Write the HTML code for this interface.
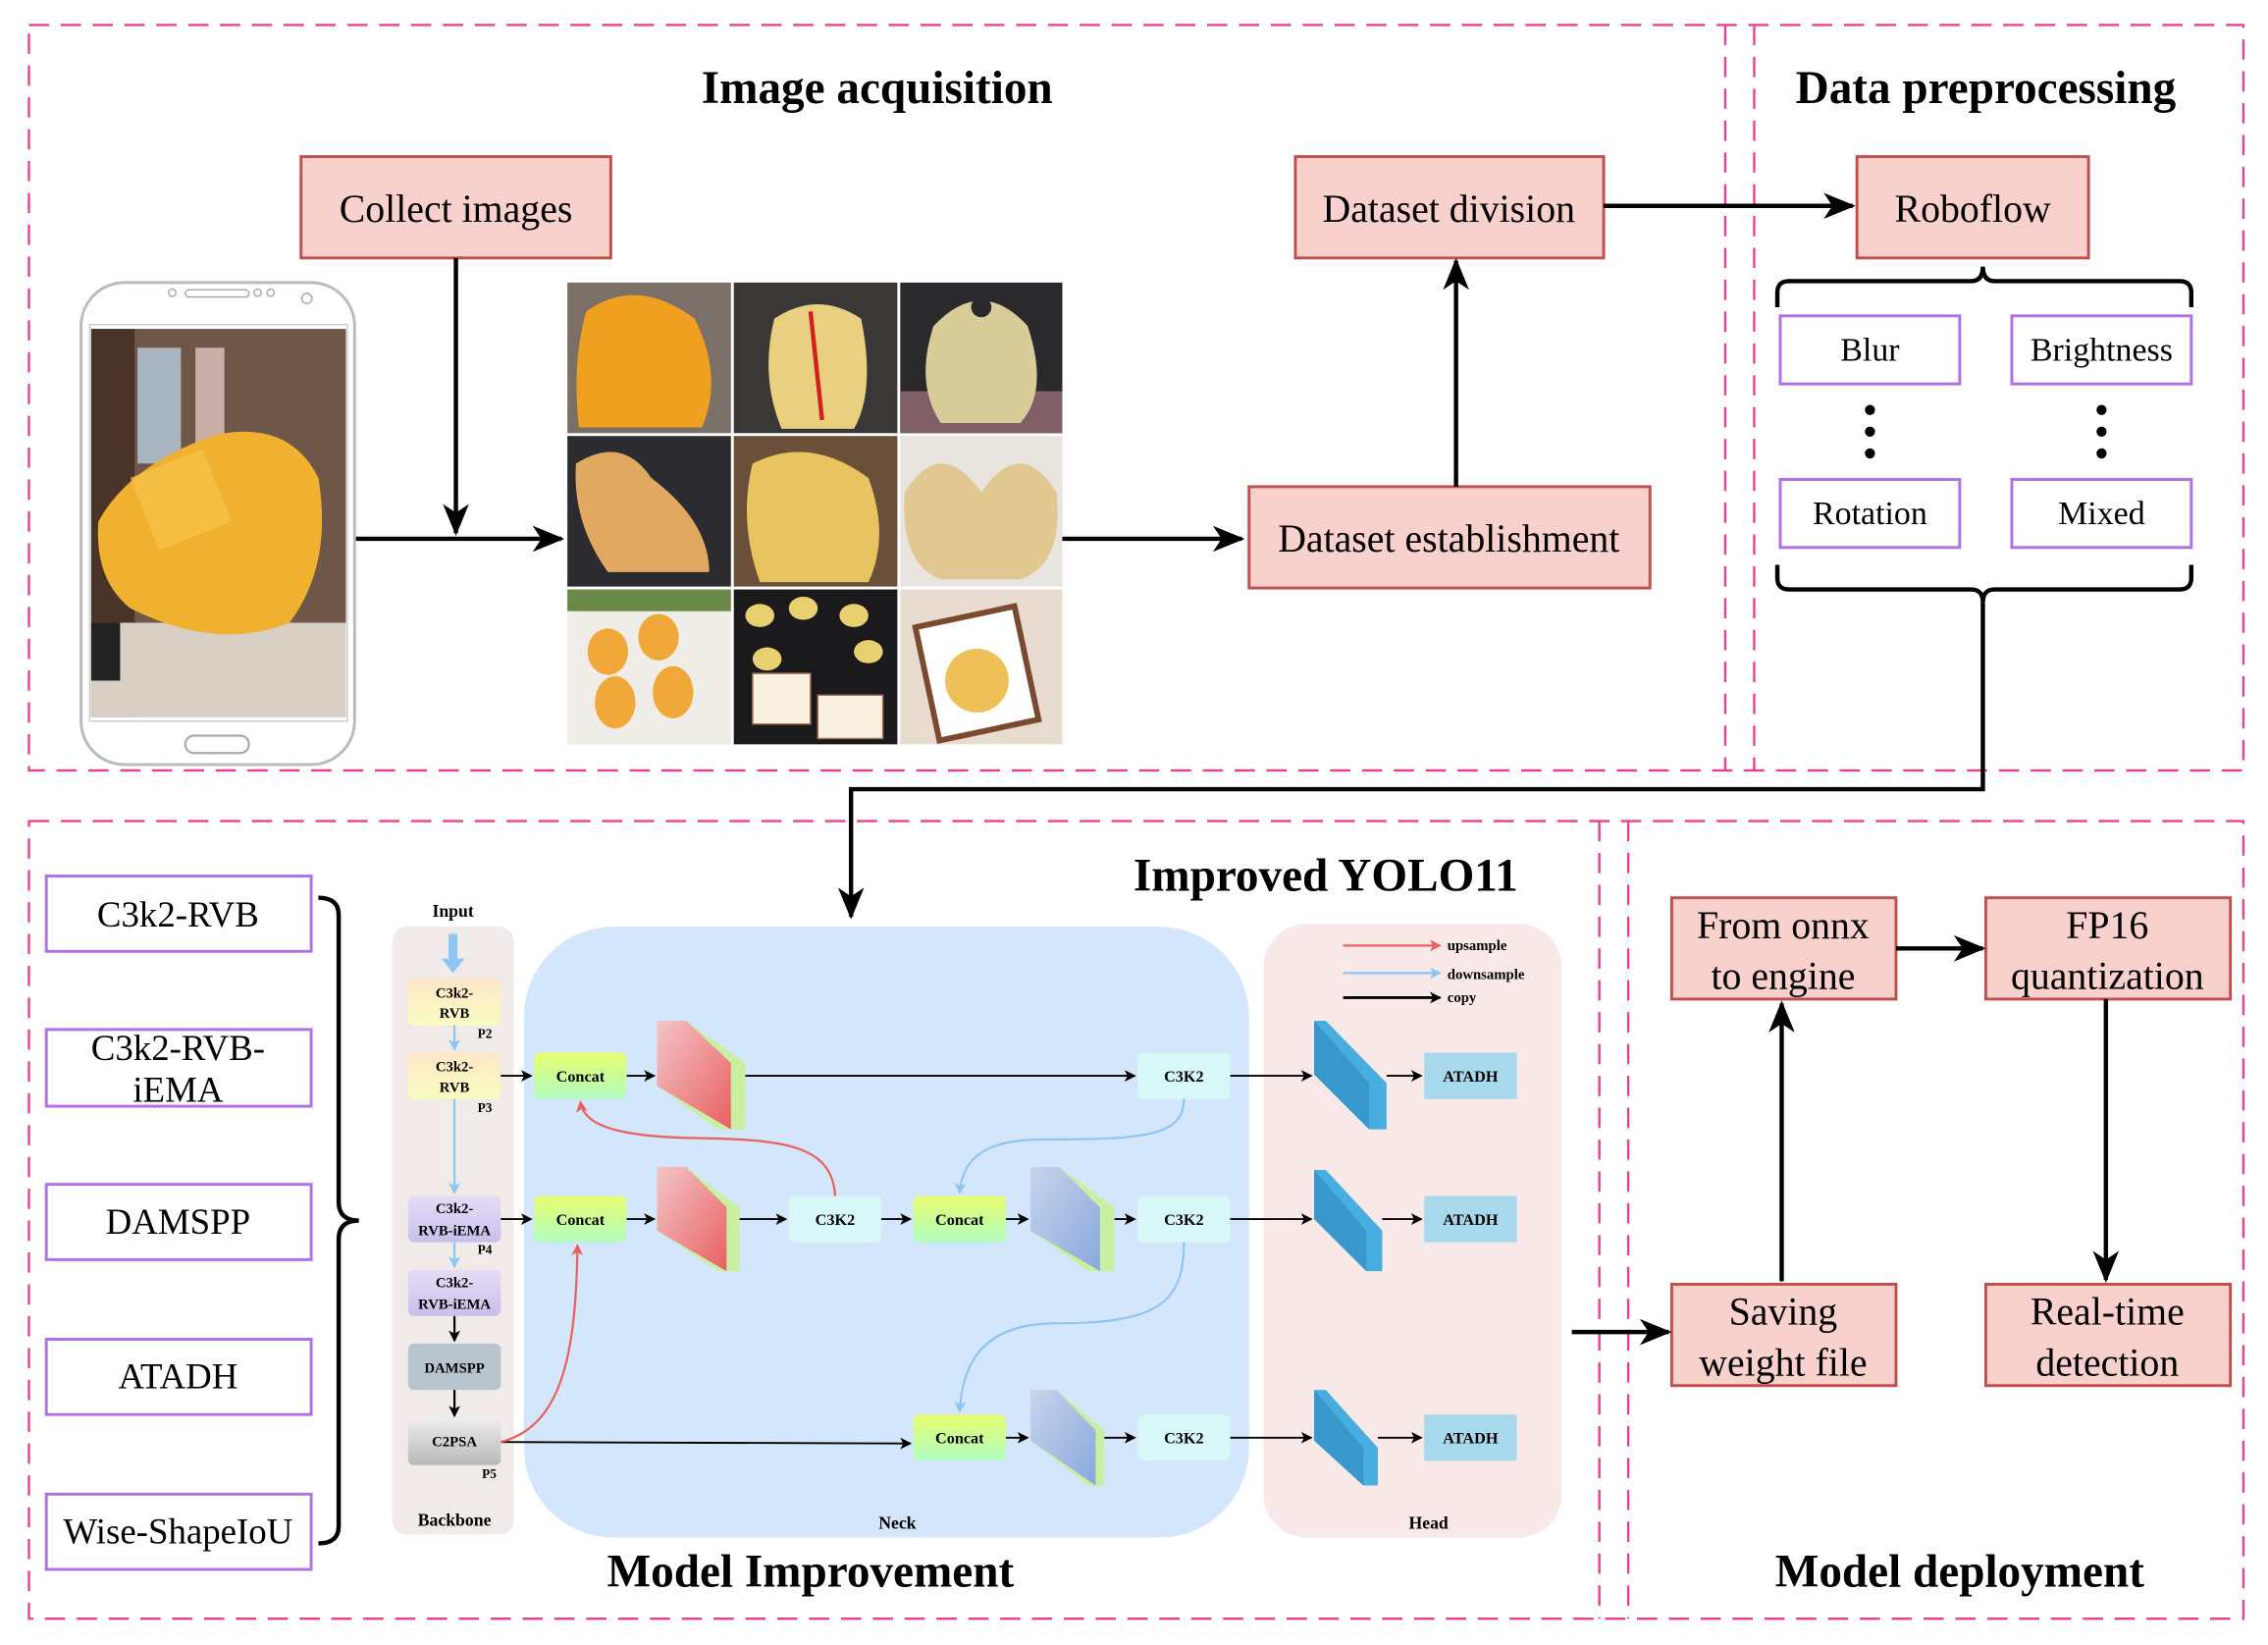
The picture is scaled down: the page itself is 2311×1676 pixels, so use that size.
<!DOCTYPE html>
<html><head><meta charset="utf-8"><style>
html,body{margin:0;padding:0;background:#fff}
svg{display:block}
svg text{font-family:"Liberation Serif","Times New Roman","DejaVu Serif",serif}
</style></head><body>
<svg width="2311" height="1676" viewBox="0 0 1567 1136" xmlns="http://www.w3.org/2000/svg" font-family="Liberation Serif, Times New Roman, serif">
<defs>
<marker id="ahL" markerWidth="22" markerHeight="22" refX="20" refY="11" orient="auto" markerUnits="userSpaceOnUse" viewBox="0 0 22 22"><path d="M0,2 L22,11 L0,20 L6,11 Z" fill="#000"/></marker>
<marker id="ahS" markerWidth="8" markerHeight="8" refX="7" refY="4" orient="auto" markerUnits="userSpaceOnUse" viewBox="0 0 8 8"><path d="M0,0 L8,4 L0,8 L2,4 Z" fill="#000"/></marker>
<marker id="ahR" markerWidth="8" markerHeight="8" refX="7" refY="4" orient="auto" markerUnits="userSpaceOnUse" viewBox="0 0 8 8"><path d="M0,0 L8,4 L0,8 L2,4 Z" fill="#e8625a"/></marker>
<marker id="ahB" markerWidth="8" markerHeight="8" refX="7" refY="4" orient="auto" markerUnits="userSpaceOnUse" viewBox="0 0 8 8"><path d="M0,0 L8,4 L0,8 L2,4 Z" fill="#8ec5f5"/></marker>
<linearGradient id="gy" x1="0" y1="0" x2="0" y2="1"><stop offset="0" stop-color="#fde6c8"/><stop offset="1" stop-color="#f8fcc0"/></linearGradient>
<linearGradient id="gp" x1="0" y1="0" x2="0" y2="1"><stop offset="0" stop-color="#e6dcf6"/><stop offset="1" stop-color="#c8c0ec"/></linearGradient>
<linearGradient id="gg" x1="0" y1="0" x2="0" y2="1"><stop offset="0" stop-color="#e8fe70"/><stop offset="1" stop-color="#b0fcc0"/></linearGradient>
<linearGradient id="gc" x1="0" y1="0" x2="0" y2="1"><stop offset="0" stop-color="#ededed"/><stop offset="1" stop-color="#b8b8b8"/></linearGradient>
<linearGradient id="gr" x1="0" y1="0" x2="1" y2="1"><stop offset="0" stop-color="#f4c4c8"/><stop offset="1" stop-color="#e86060"/></linearGradient>
<linearGradient id="gb" x1="0" y1="0" x2="1" y2="1"><stop offset="0" stop-color="#c8d4ec"/><stop offset="1" stop-color="#88a8dc"/></linearGradient>
</defs>

<g fill="none" stroke="#e8408f" stroke-width="1.6" stroke-dasharray="14,8">
<rect x="20" y="17" width="1530" height="515"/>
<line x1="1192" y1="17" x2="1192" y2="532"/>
<line x1="1212" y1="17" x2="1212" y2="532"/>
<rect x="20" y="567" width="1530" height="551"/>
<line x1="1105" y1="567" x2="1105" y2="1118"/>
<line x1="1125" y1="567" x2="1125" y2="1118"/>
</g>

<g font-weight="bold" font-size="32" text-anchor="middle" fill="#000">
<text x="606" y="71">Image acquisition</text>
<text x="1372" y="71">Data preprocessing</text>
<text x="916" y="615">Improved YOLO11</text>
<text x="560" y="1096">Model Improvement</text>
<text x="1354" y="1096">Model deployment</text>
</g>

<g fill="#f8d0cc" stroke="#c0504d" stroke-width="2">
<rect x="208" y="108" width="214" height="70"/>
<rect x="895" y="108" width="213" height="70"/>
<rect x="863" y="336" width="277" height="70"/>
<rect x="1283" y="108" width="160" height="70"/>
<rect x="1155" y="620" width="155" height="70"/>
<rect x="1372" y="620" width="169" height="70"/>
<rect x="1155" y="887" width="155" height="70"/>
<rect x="1372" y="887" width="169" height="70"/>
</g>
<g font-size="27" text-anchor="middle" fill="#000">
<text x="315" y="153">Collect images</text>
<text x="1001" y="153">Dataset division</text>
<text x="1001" y="381">Dataset establishment</text>
<text x="1363" y="153">Roboflow</text>
<text x="1232" y="648">From onnx</text><text x="1232" y="683">to engine</text>
<text x="1456" y="648">FP16</text><text x="1456" y="683">quantization</text>
<text x="1232" y="915">Saving</text><text x="1232" y="950">weight file</text>
<text x="1456" y="915">Real-time</text><text x="1456" y="950">detection</text>
</g>

<g fill="#fff" stroke="#b070e8" stroke-width="2">
<rect x="1230" y="218" width="124" height="47"/>
<rect x="1390" y="218" width="124" height="47"/>
<rect x="1230" y="331" width="124" height="47"/>
<rect x="1390" y="331" width="124" height="47"/>
<rect x="32" y="605" width="183" height="52"/>
<rect x="32" y="711" width="183" height="53"/>
<rect x="32" y="818" width="183" height="52"/>
<rect x="32" y="925" width="183" height="52"/>
<rect x="32" y="1032" width="183" height="52"/>
</g>
<g font-size="23" text-anchor="middle" fill="#000">
<text x="1292" y="249">Blur</text>
<text x="1452" y="249">Brightness</text>
<text x="1292" y="362">Rotation</text>
<text x="1452" y="362">Mixed</text>
</g>
<g font-size="25" text-anchor="middle" fill="#000">
<text x="123" y="640">C3k2-RVB</text>
<text x="123" y="732">C3k2-RVB-</text><text x="123" y="761">iEMA</text>
<text x="123" y="852">DAMSPP</text>
<text x="123" y="959">ATADH</text>
<text x="123" y="1066">Wise-ShapeIoU</text>
</g>
<g fill="#000">
<circle cx="1292" cy="283" r="3.5"/><circle cx="1292" cy="298" r="3.5"/><circle cx="1292" cy="313" r="3.5"/>
<circle cx="1452" cy="283" r="3.5"/><circle cx="1452" cy="298" r="3.5"/><circle cx="1452" cy="313" r="3.5"/>
</g>

<g fill="none" stroke="#000" stroke-width="3">
<path d="M1228,212 V202 Q1228,194 1236,194 H1362 Q1370,194 1370,184 Q1370,194 1378,194 H1506 Q1514,194 1514,202 V212"/>
<path d="M1228,390 V399 Q1228,407 1236,407 H1362 Q1370,407 1370,416 Q1370,407 1378,407 H1506 Q1514,407 1514,399 V390"/>
<path d="M220,620 Q234,620 234,632 V830 Q234,843 248,843 Q234,843 234,856 V1054 Q234,1066 220,1066"/>
</g>

<g fill="none" stroke="#000" stroke-width="3">
<line x1="315" y1="178" x2="315" y2="368" marker-end="url(#ahL)"/>
<line x1="245" y1="372" x2="388" y2="372" marker-end="url(#ahL)"/>
<line x1="734" y1="372" x2="858" y2="372" marker-end="url(#ahL)"/>
<line x1="1006" y1="336" x2="1006" y2="180" marker-end="url(#ahL)"/>
<line x1="1108" y1="142" x2="1280" y2="142" marker-end="url(#ahL)"/>
<path d="M1370,416 V545 H588 V633" marker-end="url(#ahL)"/>
<line x1="1310" y1="655" x2="1370" y2="655" marker-end="url(#ahL)"/>
<line x1="1231" y1="885" x2="1231" y2="693" marker-end="url(#ahL)"/>
<line x1="1455" y1="690" x2="1455" y2="884" marker-end="url(#ahL)"/>
<line x1="1086" y1="920" x2="1153" y2="920" marker-end="url(#ahL)"/>
</g>

<rect x="56" y="195" width="189" height="333" rx="30" fill="#fff" stroke="#bbb" stroke-width="2"/>
<rect x="128" y="200" width="44" height="5" rx="2.5" fill="none" stroke="#aaa"/>
<circle cx="119" cy="202" r="2.5" fill="none" stroke="#aaa"/><circle cx="178" cy="202" r="2.5" fill="none" stroke="#aaa"/><circle cx="187" cy="202" r="2.5" fill="none" stroke="#aaa"/><circle cx="212" cy="206" r="3.5" fill="none" stroke="#aaa"/>
<rect x="128" y="508" width="44" height="12" rx="6" fill="none" stroke="#aaa" stroke-width="1.5"/>
<rect x="62" y="224" width="178" height="274" fill="none" stroke="#ccc" stroke-width="1"/>
<rect x="63" y="227" width="176" height="268" fill="#6e5648"/>
<rect x="63" y="227" width="30" height="268" fill="#4a3428"/>
<rect x="95" y="240" width="30" height="80" fill="#a8b4c0"/>
<rect x="135" y="240" width="20" height="70" fill="#c8b0a8"/>
<rect x="63" y="430" width="176" height="65" fill="#d8cfc4"/>
<path d="M68,360 Q90,320 150,300 Q200,290 220,330 Q230,390 200,430 Q150,450 90,420 Q65,400 68,360Z" fill="#f0b030"/>
<path d="M90,330 L140,310 L160,360 L110,380Z" fill="#f5c248" opacity="0.8"/>
<rect x="63" y="430" width="20" height="40" fill="#222"/>

<g>
<rect x="392" y="195" width="342" height="319" fill="#fff"/>
<rect x="392" y="195" width="113" height="104" fill="#7a7068"/>
<path d="M405,215 Q440,190 480,220 Q500,260 485,295 H400 Q395,250 405,215Z" fill="#f0a020"/>
<rect x="507" y="195" width="113" height="104" fill="#3a3836"/>
<path d="M535,220 Q565,200 595,220 Q605,270 590,296 H540 Q525,260 535,220Z" fill="#e8d080"/>
<path d="M560,215 L568,290" stroke="#d02020" stroke-width="3"/>
<rect x="622" y="195" width="112" height="104" fill="#2a2a2c"/>
<rect x="622" y="270" width="112" height="29" fill="#806068"/>
<path d="M645,225 Q678,190 710,225 Q725,270 705,292 H650 Q632,265 645,225Z" fill="#d8cc98"/>
<circle cx="678" cy="212" r="7" fill="#2a2a2c"/>
<rect x="392" y="301" width="113" height="104" fill="#2c2c30"/>
<path d="M398,320 Q430,300 450,330 Q490,360 490,395 H420 Q395,360 398,320Z" fill="#e0a860"/>
<rect x="507" y="301" width="113" height="104" fill="#6a5038"/>
<path d="M520,320 Q560,300 600,330 Q615,370 600,402 H525 Q510,360 520,320Z" fill="#e8c460"/>
<rect x="622" y="301" width="112" height="104" fill="#e8e4e0"/>
<path d="M625,340 Q650,300 678,340 Q705,300 730,340 Q735,390 705,400 H650 Q622,390 625,340Z" fill="#e0c890"/>
<rect x="392" y="407" width="113" height="107" fill="#f0ece8"/>
<rect x="392" y="407" width="113" height="15" fill="#6a8848"/>
<g fill="#f0a838"><ellipse cx="420" cy="450" rx="14" ry="16"/><ellipse cx="455" cy="440" rx="14" ry="16"/><ellipse cx="425" cy="485" rx="14" ry="18"/><ellipse cx="465" cy="478" rx="14" ry="18"/></g>
<rect x="507" y="407" width="113" height="107" fill="#1a1a1c"/>
<g fill="#e8d070"><ellipse cx="525" cy="425" rx="10" ry="8"/><ellipse cx="555" cy="420" rx="10" ry="8"/><ellipse cx="590" cy="425" rx="10" ry="8"/><ellipse cx="600" cy="450" rx="10" ry="8"/><ellipse cx="530" cy="455" rx="10" ry="8"/></g>
<rect x="520" y="465" width="40" height="35" fill="#f8f0e0" stroke="#a07050"/><rect x="565" y="480" width="45" height="30" fill="#f8f0e0" stroke="#a07050"/>
<rect x="622" y="407" width="112" height="107" fill="#e8dcd0"/>
<rect x="640" y="425" width="70" height="80" fill="#fff" stroke="#7a4a30" stroke-width="4" transform="rotate(-12 675 465)"/>
<ellipse cx="675" cy="470" rx="22" ry="22" fill="#f0c058"/>
</g>

<rect x="271" y="640" width="84" height="420" rx="10" fill="#f0ebe8"/>
<rect x="362" y="640" width="501" height="422" rx="62" fill="#d4e6fb"/>
<rect x="873" y="638" width="206" height="424" rx="30" fill="#f8e8e8"/>
<g font-weight="bold" font-size="12" text-anchor="middle" fill="#000">
<text x="313" y="633">Input</text>
<text x="314" y="1054">Backbone</text>
<text x="620" y="1056">Neck</text>
<text x="987" y="1056">Head</text>
</g>
<line x1="313" y1="645" x2="313" y2="664" stroke="#8ec5f5" stroke-width="6"/>
<path d="M305,662 L321,662 L313,672Z" fill="#8ec5f5"/>

<rect x="282" y="676" width="64" height="32" rx="4" fill="url(#gy)"/>
<rect x="282" y="727" width="64" height="32" rx="4" fill="url(#gy)"/>
<rect x="282" y="826" width="64" height="32" rx="4" fill="url(#gp)"/>
<rect x="282" y="877" width="64" height="32" rx="4" fill="url(#gp)"/>
<rect x="282" y="928" width="64" height="32" rx="4" fill="#b8c4ce"/>
<rect x="282" y="980" width="64" height="32" rx="4" fill="url(#gc)"/>
<g font-weight="bold" font-size="10" text-anchor="middle" fill="#000">
<text x="314" y="689">C3k2-</text><text x="314" y="703">RVB</text>
<text x="314" y="740">C3k2-</text><text x="314" y="754">RVB</text>
<text x="314" y="838">C3k2-</text><text x="314" y="853">RVB-iEMA</text>
<text x="314" y="889">C3k2-</text><text x="314" y="904">RVB-iEMA</text>
<text x="314" y="948">DAMSPP</text>
<text x="314" y="999">C2PSA</text>
<text x="335" y="717" font-size="9">P2</text>
<text x="335" y="768" font-size="9">P3</text>
<text x="335" y="866" font-size="9">P4</text>
<text x="338" y="1021" font-size="9">P5</text>
</g>
<g stroke="#8ec5f5" stroke-width="1.5" fill="none">
<line x1="314" y1="708" x2="314" y2="725" marker-end="url(#ahB)"/>
<line x1="314" y1="759" x2="314" y2="824" marker-end="url(#ahB)"/>
<line x1="314" y1="858" x2="314" y2="875" marker-end="url(#ahB)"/>
</g>
<g stroke="#000" stroke-width="1.5" fill="none">
<line x1="314" y1="909" x2="314" y2="926" marker-end="url(#ahS)"/>
<line x1="314" y1="960" x2="314" y2="978" marker-end="url(#ahS)"/>
</g>

<g>
<rect x="369" y="727" width="64" height="32" rx="4" fill="url(#gg)"/>
<rect x="369" y="826" width="64" height="32" rx="4" fill="url(#gg)"/>
<rect x="631" y="826" width="64" height="32" rx="4" fill="url(#gg)"/>
<rect x="631" y="977" width="64" height="32" rx="4" fill="url(#gg)"/>
<rect x="786" y="727" width="64" height="32" rx="4" fill="#d8f8f8"/>
<rect x="545" y="826" width="64" height="32" rx="4" fill="#d8f8f8"/>
<rect x="786" y="826" width="64" height="32" rx="4" fill="#d8f8f8"/>
<rect x="786" y="977" width="64" height="32" rx="4" fill="#d8f8f8"/>
<rect x="984" y="727" width="64" height="32" fill="#a8d8ec"/>
<rect x="984" y="826" width="64" height="32" fill="#a8d8ec"/>
<rect x="984" y="977" width="64" height="32" fill="#a8d8ec"/>
</g>
<g font-weight="bold" font-size="11" text-anchor="middle" fill="#000">
<text x="401" y="747">Concat</text><text x="401" y="846">Concat</text>
<text x="663" y="846">Concat</text><text x="663" y="997">Concat</text>
<text x="818" y="747">C3K2</text><text x="577" y="846">C3K2</text>
<text x="818" y="846">C3K2</text><text x="818" y="997">C3K2</text>
<text x="1016" y="747">ATADH</text><text x="1016" y="846">ATADH</text><text x="1016" y="997">ATADH</text>
</g>

<g>
<path d="M454,705 L474,705 L515,734 L515,780 L496,780 L454,750Z" fill="#c8f0a0"/>
<path d="M454,705 L474,705 L505,734 L505,780 L454,750Z" fill="url(#gr)"/>
<path d="M454,806 L474,806 L511,834 L511,878 L496,878 L454,850Z" fill="#c8f0a0"/>
<path d="M454,806 L474,806 L502,834 L502,878 L454,850Z" fill="url(#gr)"/>
<path d="M712,806 L732,806 L770,834 L770,878 L752,878 L712,850Z" fill="#c8f0a0"/>
<path d="M712,806 L732,806 L760,834 L760,878 L712,850Z" fill="url(#gb)"/>
<path d="M712,960 L730,960 L763,988 L763,1026 L752,1026 L712,995Z" fill="#c8f0a0"/>
<path d="M712,960 L730,960 L757,988 L757,1026 L712,995Z" fill="url(#gb)"/>
<path d="M908,705 L916,705 L958,748 L958,780 L946,780 L908,742Z" fill="#48aee0"/>
<path d="M908,705 L946,748 L946,780 L908,742Z" fill="#3898cc"/>
<path d="M908,808 L916,808 L955,850 L955,878 L944,878 L908,842Z" fill="#48aee0"/>
<path d="M908,808 L944,850 L944,878 L908,842Z" fill="#3898cc"/>
<path d="M908,960 L916,960 L952,1000 L952,1026 L942,1026 L908,995Z" fill="#48aee0"/>
<path d="M908,960 L942,1000 L942,1026 L908,995Z" fill="#3898cc"/>
</g>

<g stroke="#000" stroke-width="1.3" fill="none">
<line x1="346" y1="743" x2="367" y2="743" marker-end="url(#ahS)"/>
<line x1="346" y1="842" x2="367" y2="842" marker-end="url(#ahS)"/>
<line x1="433" y1="743" x2="452" y2="743" marker-end="url(#ahS)"/>
<line x1="433" y1="842" x2="452" y2="842" marker-end="url(#ahS)"/>
<line x1="515" y1="743" x2="784" y2="743" marker-end="url(#ahS)"/>
<line x1="511" y1="842" x2="543" y2="842" marker-end="url(#ahS)"/>
<line x1="609" y1="842" x2="629" y2="842" marker-end="url(#ahS)"/>
<line x1="695" y1="842" x2="710" y2="842" marker-end="url(#ahS)"/>
<line x1="770" y1="842" x2="784" y2="842" marker-end="url(#ahS)"/>
<line x1="695" y1="993" x2="710" y2="993" marker-end="url(#ahS)"/>
<line x1="763" y1="993" x2="784" y2="993" marker-end="url(#ahS)"/>
<line x1="346" y1="996" x2="629" y2="997" marker-end="url(#ahS)"/>
<line x1="850" y1="743" x2="906" y2="743" marker-end="url(#ahS)"/>
<line x1="850" y1="842" x2="906" y2="842" marker-end="url(#ahS)"/>
<line x1="850" y1="993" x2="906" y2="993" marker-end="url(#ahS)"/>
<line x1="958" y1="743" x2="982" y2="743" marker-end="url(#ahS)"/>
<line x1="955" y1="842" x2="982" y2="842" marker-end="url(#ahS)"/>
<line x1="952" y1="993" x2="982" y2="993" marker-end="url(#ahS)"/>
</g>
<g stroke="#e8625a" stroke-width="1.5" fill="none">
<path d="M577,826 C575,790 540,787 480,786 C420,785 403,775 401,761" marker-end="url(#ahR)"/>
<path d="M346,996 C390,985 398,930 399,860" marker-end="url(#ahR)"/>
<line x1="928" y1="653" x2="995" y2="653" marker-end="url(#ahR)"/>
</g>
<g stroke="#8ec5f5" stroke-width="1.5" fill="none">
<path d="M818,759 C818,785 790,787 720,787 C680,787 665,800 663,824" marker-end="url(#ahB)"/>
<path d="M818,858 C818,900 800,914 730,914 C680,914 665,940 663,975" marker-end="url(#ahB)"/>
<line x1="928" y1="672" x2="995" y2="672" marker-end="url(#ahB)"/>
</g>
<line x1="928" y1="689" x2="995" y2="689" stroke="#000" stroke-width="2" marker-end="url(#ahS)"/>
<g font-weight="bold" font-size="10" fill="#000">
<text x="1000" y="656">upsample</text>
<text x="1000" y="676">downsample</text>
<text x="1000" y="692">copy</text>
</g>
</svg>
</body></html>
